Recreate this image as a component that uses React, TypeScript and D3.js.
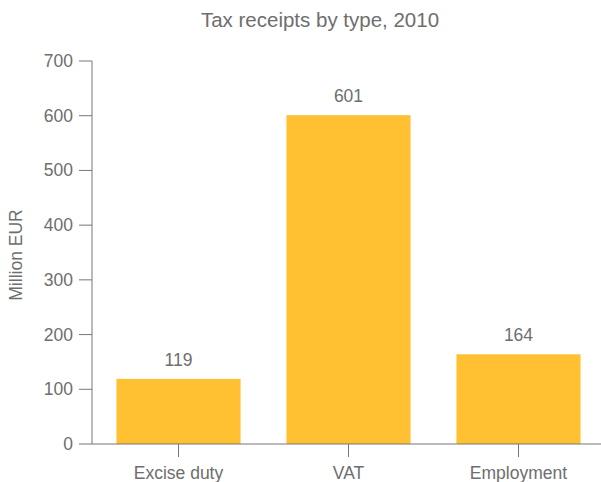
import React from "react";
import * as d3 from "d3";

const categories = ["Excise duty", "VAT", "Employment"];
const values = [119, 601, 164];
const yTicks = [0, 100, 200, 300, 400, 500, 600, 700];

export default function App() {
  const W = 601, H = 482;
  const x = d3.scaleBand<string>().domain(categories).range([93.5, 603.5]).paddingInner(0.27).paddingOuter(0.135);
  const y = d3.scaleLinear().domain([0, 700]).range([444, 61]);
  const font = "'Liberation Sans', Arial, sans-serif";
  const textColor = "#6e6e6e";
  const axisColor = "#777";
  const fs = 17.5;
  return (
    <svg width={W} height={H} style={{ position: "absolute", left: 0, top: 0 }} fontFamily={font}>
      <text x={320} y={27} textAnchor="middle" fontSize={20.5} fill={textColor}>Tax receipts by type, 2010</text>
      <text transform={`translate(22,255) rotate(-90)`} textAnchor="middle" fontSize={fs} fill={textColor}>Million EUR</text>
      {categories.map((c, i) => (
        <rect key={c} x={x(c)} y={y(values[i])} width={x.bandwidth()} height={y(0) - y(values[i])} fill="#FFC032" />
      ))}
      {categories.map((c, i) => (
        <text key={c + "v"} x={x(c)! + x.bandwidth() / 2} y={y(values[i]) - 13} textAnchor="middle" fontSize={fs} fill={textColor}>{values[i]}</text>
      ))}
      <line x1={92} x2={601} y1={y(0)} y2={y(0)} stroke={axisColor} strokeWidth={1} />
      <line x1={92} x2={92} y1={y(0)} y2={y(700)} stroke={axisColor} strokeWidth={1} />
      {yTicks.map((t) => (
        <g key={t}>
          <line x1={79} x2={92} y1={y(t)} y2={y(t)} stroke={axisColor} />
          <text x={73} y={y(t) + 6} textAnchor="end" fontSize={fs} fill={textColor}>{t}</text>
        </g>
      ))}
      {categories.map((c) => (
        <g key={c + "t"}>
          <text x={x(c)! + x.bandwidth() / 2} y={479} textAnchor="middle" fontSize={fs} fill={textColor}>{c}</text>
          <line x1={x(c)! + x.bandwidth() / 2} x2={x(c)! + x.bandwidth() / 2} y1={y(0)} y2={457} stroke={axisColor} />
        </g>
      ))}
    </svg>
  );
}
